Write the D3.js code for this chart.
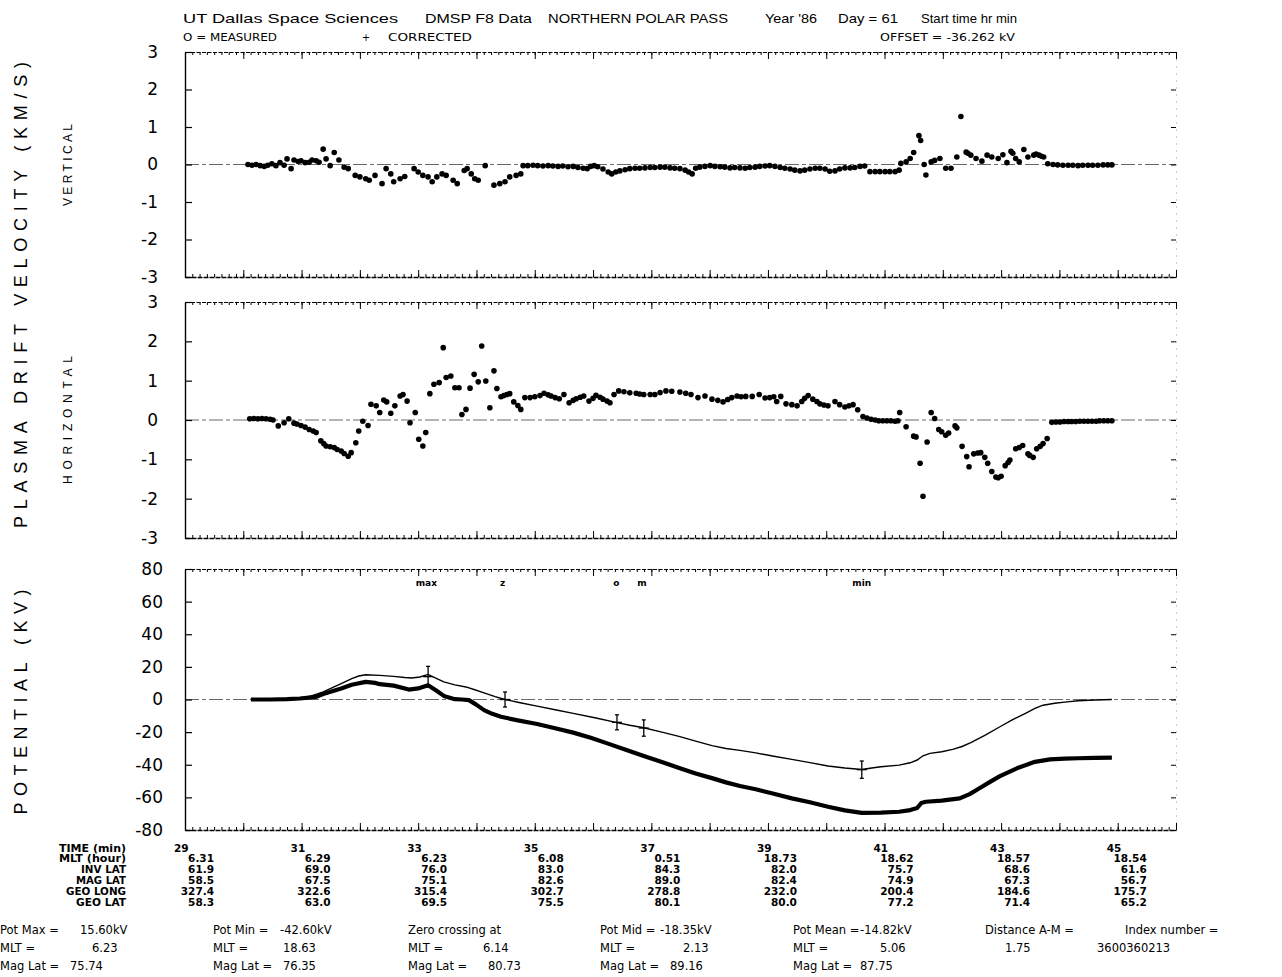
<!DOCTYPE html>
<html><head><meta charset="utf-8">
<script src="https://cdn.jsdelivr.net/npm/d3@7"></script>
<style>
body{margin:0;background:#fff;}
svg{display:block;background:#fff;}
text{font-family:"DejaVu Sans",sans-serif;fill:#000;}
</style></head><body>
<svg id="chart" width="1282" height="977"></svg>
<script>
// ---------------- DATA ----------------
// time in minutes, value in km/s
const verticalVel = [
[30.08,0.00],[30.15,-0.02],[30.22,0.00],[30.29,-0.03],[30.36,-0.05],[30.42,-0.02],[30.49,0.02],[30.56,-0.03],[30.63,0.05],[30.70,-0.02],[30.75,0.15],[30.82,-0.11],[30.87,0.12],[30.94,0.08],[30.99,0.10],[31.06,0.05],[31.13,0.06],[31.18,0.12],[31.25,0.10],[31.30,0.06],[31.37,0.41],[31.42,0.15],[31.49,-0.03],[31.56,0.32],[31.64,0.12],[31.73,-0.07],[31.80,-0.11],
[31.92,-0.29],[32.00,-0.33],[32.10,-0.38],[32.16,-0.42],[32.26,-0.29],[32.38,-0.51],[32.45,-0.11],[32.53,-0.25],[32.58,-0.46],[32.69,-0.38],[32.77,-0.32],[32.93,-0.11],[33.00,-0.20],[33.08,-0.29],[33.17,-0.33],[33.24,-0.46],[33.32,-0.33],[33.41,-0.25],[33.48,-0.29],[33.60,-0.42],[33.67,-0.51],[33.79,-0.16],[33.84,-0.11],[33.91,-0.25],[33.97,-0.38],[34.03,-0.42],[34.15,-0.03],[34.30,-0.55],[34.40,-0.51],[34.49,-0.46],[34.57,-0.33],[34.68,-0.29],[34.76,-0.25],
[34.80,-0.03],[34.88,-0.03],[34.97,-0.02],[35.05,-0.03],[35.14,-0.04],[35.23,-0.03],[35.31,-0.04],[35.40,-0.05],[35.48,-0.04],[35.57,-0.06],[35.66,-0.05],[35.74,-0.08],[35.83,-0.10],[35.90,-0.11],[35.96,-0.05],[36.02,-0.03],[36.08,-0.06],[36.17,-0.12],[36.26,-0.20],[36.32,-0.25],[36.39,-0.20],[36.46,-0.17],[36.55,-0.14],[36.63,-0.11],[36.72,-0.10],[36.80,-0.10],[36.89,-0.09],[36.98,-0.08],[37.06,-0.08],[37.15,-0.07],[37.23,-0.07],[37.32,-0.09],[37.40,-0.10],[37.49,-0.11],[37.58,-0.15],[37.64,-0.20],[37.70,-0.25],[37.76,-0.10],[37.83,-0.07],[37.92,-0.05],[38.01,-0.03],[38.09,-0.05],[38.18,-0.06],[38.26,-0.07],[38.35,-0.09],[38.43,-0.08],[38.52,-0.09],[38.61,-0.10],[38.69,-0.08],[38.78,-0.07],[38.86,-0.05],[38.95,-0.04],[39.03,-0.03],[39.12,-0.05],[39.21,-0.08],[39.29,-0.10],[39.38,-0.12],[39.46,-0.15],[39.55,-0.17],[39.63,-0.15],[39.72,-0.12],[39.81,-0.10],[39.89,-0.10],[39.98,-0.12],[40.06,-0.18],[40.15,-0.17],[40.23,-0.12],[40.32,-0.09],[40.41,-0.09],[40.49,-0.08],[40.58,-0.05],[40.66,-0.04],[40.75,-0.19],[40.84,-0.19],[40.92,-0.19],[41.01,-0.19],[41.09,-0.19],[41.18,-0.19],[41.25,-0.15],
[41.28,0.03],[41.37,0.07],[41.44,0.16],[41.50,0.32],[41.59,0.77],[41.62,0.64],[41.68,0.00],[41.71,-0.28],[41.80,0.07],[41.86,0.11],[41.95,0.16],[42.05,-0.10],[42.14,-0.10],[42.24,0.20],[42.31,1.28],[42.40,0.33],[42.43,0.30],[42.48,0.25],[42.57,0.16],[42.67,0.09],[42.76,0.25],[42.84,0.20],[42.95,0.16],[43.03,0.26],[43.10,0.05],[43.17,0.35],[43.20,0.30],[43.25,0.16],[43.31,0.07],[43.39,0.40],[43.46,0.20],[43.56,0.25],[43.60,0.28],[43.65,0.25],[43.69,0.22],[43.73,0.20],
[43.80,0.02],[43.89,0.00],[43.97,-0.01],[44.06,-0.02],[44.15,-0.02],[44.23,-0.02],[44.32,-0.03],[44.40,-0.02],[44.49,-0.02],[44.57,-0.02],[44.66,-0.02],[44.75,-0.01],[44.83,-0.01],[44.90,-0.01]
];
const horizontalVel = [
[30.11,0.03],[30.18,0.04],[30.25,0.03],[30.32,0.04],[30.39,0.03],[30.46,0.02],[30.51,0.00],
[30.60,-0.15],[30.70,-0.07],[30.78,0.03],[30.87,-0.08],[30.92,-0.10],[30.99,-0.14],[31.06,-0.18],[31.13,-0.24],[31.20,-0.28],[31.25,-0.32],[31.33,-0.53],[31.38,-0.60],[31.42,-0.66],[31.49,-0.68],[31.56,-0.70],[31.61,-0.75],[31.68,-0.79],[31.73,-0.85],[31.80,-0.92],[31.85,-0.83],[31.93,-0.58],[31.98,-0.28],[32.05,-0.03],[32.14,-0.14],[32.19,0.40],[32.28,0.36],[32.34,0.19],[32.41,0.51],[32.46,0.46],[32.53,0.17],[32.60,0.36],[32.69,0.61],[32.74,0.65],[32.81,0.48],[32.86,-0.07],[32.95,0.19],[33.01,-0.49],[33.08,-0.66],[33.13,-0.32],[33.20,0.67],[33.27,0.91],[33.36,0.95],[33.43,1.84],[33.48,1.08],[33.56,1.12],[33.63,0.82],[33.70,0.82],[33.75,0.14],[33.82,0.27],[33.89,0.81],[33.96,1.16],[34.03,0.97],[34.09,1.88],[34.16,0.99],[34.23,0.31],[34.30,1.25],[34.35,0.80],[34.42,0.59],[34.47,0.62],[34.52,0.65],[34.57,0.67],[34.64,0.46],[34.71,0.37],[34.76,0.27],
[34.83,0.57],[34.92,0.57],[35.00,0.59],[35.09,0.62],[35.16,0.68],[35.23,0.64],[35.28,0.61],[35.35,0.57],[35.42,0.54],[35.50,0.65],[35.59,0.44],[35.66,0.50],[35.71,0.54],[35.78,0.58],[35.84,0.61],[35.93,0.48],[36.00,0.55],[36.05,0.63],[36.12,0.58],[36.17,0.53],[36.24,0.48],[36.29,0.44],[36.36,0.65],[36.44,0.74],[36.53,0.72],[36.63,0.69],[36.74,0.68],[36.80,0.66],[36.87,0.65],[36.98,0.65],[37.06,0.65],[37.15,0.70],[37.25,0.74],[37.35,0.73],[37.49,0.71],[37.59,0.68],[37.68,0.65],[37.80,0.57],[37.92,0.61],[38.04,0.53],[38.14,0.50],[38.23,0.46],[38.31,0.52],[38.38,0.57],[38.47,0.61],[38.54,0.59],[38.62,0.60],[38.73,0.60],[38.85,0.65],[38.95,0.56],[39.03,0.57],[39.10,0.59],[39.15,0.47],[39.22,0.60],[39.31,0.41],[39.41,0.39],[39.50,0.36],[39.58,0.47],[39.63,0.55],[39.69,0.62],[39.77,0.53],[39.84,0.47],[39.89,0.41],[39.96,0.38],[40.03,0.36],[40.15,0.47],[40.23,0.39],[40.32,0.33],[40.39,0.36],[40.46,0.39],[40.54,0.26],[40.63,0.09],[40.70,0.05],[40.77,0.02],[40.84,0.00],[40.90,-0.02],[40.97,-0.02],[41.04,-0.02],[41.11,-0.02],[41.18,-0.03],[41.23,-0.02],
[41.26,0.19],[41.37,-0.17],[41.50,-0.41],[41.54,-0.43],[41.61,-1.10],[41.66,-1.94],[41.73,-0.56],[41.80,0.19],[41.86,0.04],[41.93,-0.24],[41.98,-0.30],[42.05,-0.39],[42.10,-0.33],[42.21,-0.15],[42.24,-0.20],[42.33,-0.67],[42.41,-0.93],[42.45,-1.19],[42.53,-0.86],[42.60,-0.84],[42.65,-0.83],[42.72,-0.95],[42.77,-1.10],[42.84,-1.31],[42.91,-1.45],[42.95,-1.47],[43.00,-1.43],[43.07,-1.16],[43.12,-1.08],[43.15,-1.02],[43.25,-0.73],[43.31,-0.70],[43.37,-0.65],[43.46,-0.86],[43.49,-0.90],[43.55,-0.95],[43.61,-0.73],[43.67,-0.67],[43.72,-0.60],[43.79,-0.47],
[43.87,-0.06],[43.94,-0.05],[44.01,-0.05],[44.08,-0.04],[44.15,-0.04],[44.21,-0.04],[44.28,-0.04],[44.35,-0.03],[44.42,-0.03],[44.49,-0.03],[44.56,-0.03],[44.63,-0.03],[44.69,-0.02],[44.76,-0.02],[44.83,-0.02],[44.90,-0.02]
];
// potential (kV)
const potCorrected = [
[30.13,0],[30.46,0.2],[30.75,0.5],[30.97,1.0],[31.13,1.8],[31.37,4.7],[31.68,9.8],[31.86,12.8],[31.98,14.4],[32.10,15.2],[32.34,14.8],[32.58,14.2],[32.77,13.5],[32.89,13.2],[33.03,13.8],[33.17,15.4],[33.31,13.0],[33.44,10.8],[33.63,9.0],[33.82,7.7],[33.97,6.0],[34.13,4.1],[34.32,1.8],[34.49,0],[34.75,-2.0],[35.04,-4.1],[35.35,-6.3],[35.66,-8.5],[36.03,-11.2],[36.41,-14.2],[36.63,-15.8],[36.87,-17.3],[37.18,-20.0],[37.49,-22.8],[37.76,-25.5],[38.04,-28.3],[38.28,-30.0],[38.52,-31.2],[38.79,-32.7],[39.10,-34.8],[39.41,-36.7],[39.72,-38.7],[40.03,-40.8],[40.32,-42.0],[40.61,-42.9],[40.78,-42.0],[40.94,-41.2],[41.25,-40.2],[41.44,-38.8],[41.56,-37.1],[41.66,-34.5],[41.78,-33.0],[41.98,-32.0],[42.17,-30.6],[42.33,-28.8],[42.48,-26.5],[42.72,-22.0],[42.98,-16.7],[43.19,-12.5],[43.41,-8.6],[43.58,-5.5],[43.72,-3.5],[43.92,-2.3],[44.09,-1.6],[44.32,-0.8],[44.61,-0.3],[44.90,0]
];
const potMeasured = [
[30.13,0],[30.46,0],[30.75,0.2],[30.97,0.6],[31.25,1.6],[31.37,3.3],[31.68,6.7],[31.86,9.0],[32.10,10.8],[32.26,10.2],[32.34,9.4],[32.58,8.5],[32.84,6.1],[33.00,6.8],[33.17,8.7],[33.31,5.5],[33.44,2.2],[33.63,0.2],[33.75,0.0],[33.87,-0.4],[33.99,-3.0],[34.13,-6.5],[34.27,-8.8],[34.42,-10.6],[34.71,-12.8],[35.04,-15.0],[35.35,-17.6],[35.66,-20.3],[35.96,-23.5],[36.27,-27.2],[36.56,-30.8],[36.87,-34.6],[37.18,-38.3],[37.49,-42.1],[37.76,-45.3],[38.04,-48.2],[38.28,-50.8],[38.52,-53.0],[38.79,-55.0],[39.10,-57.8],[39.41,-60.6],[39.72,-63.0],[40.03,-65.7],[40.32,-68.0],[40.61,-69.5],[40.94,-69.4],[41.25,-68.8],[41.44,-67.8],[41.56,-66.5],[41.63,-63.5],[41.71,-62.7],[41.98,-62.0],[42.29,-60.6],[42.46,-58.0],[42.60,-55.0],[42.81,-50.5],[42.98,-47.0],[43.27,-42.2],[43.58,-38.2],[43.84,-36.7],[44.09,-36.2],[44.32,-36.0],[44.61,-35.8],[44.90,-35.6]
];
// error bars: [time, centre kV, half-height kV]
const errorBars = [[33.17,14.0,6.3],[34.49,0,4.6],[36.41,-14.0,4.6],[36.87,-17.5,5.0],[40.61,-43.0,5.3]];
const markerLabels = ["max","z","o","m","min"];
const markerTimes = [33.14,34.45,36.40,36.84,40.61];
const markerLevel = 72;

const velTicks = [-3,-2,-1,0,1,2,3];
const potTicks = [-80,-60,-40,-20,0,20,40,60,80];

const tableTimes = [29,31,33,35,37,39,41,43,45];
const rowNames = ["TIME (min)","MLT (hour)","INV LAT","MAG LAT","GEO LONG","GEO LAT"];
const mltRow = ["6.31","6.29","6.23","6.08","0.51","18.73","18.62","18.57","18.54"];
const invLatRow = ["61.9","69.0","76.0","83.0","84.3","82.0","75.7","68.6","61.6"];
const magLatRow = ["58.5","67.5","75.1","82.6","89.0","82.4","74.9","67.3","56.7"];
const geoLongRow = ["327.4","322.6","315.4","302.7","278.8","232.0","200.4","184.6","175.7"];
const geoLatRow = ["58.3","63.0","69.5","75.5","80.1","80.0","77.2","71.4","65.2"];

const statLabels = [
 ["Pot Max =","MLT =","Mag Lat ="],
 ["Pot Min =","MLT =","Mag Lat ="],
 ["Zero crossing at","MLT =","Mag Lat ="],
 ["Pot Mid =","MLT =","Mag Lat ="],
 ["Pot Mean =","MLT =","Mag Lat ="],
 ["Distance A-M =","",""]
];
const statValues = [
 ["15.60kV","6.23","75.74"],
 ["-42.60kV","18.63","76.35"],
 ["","6.14","80.73"],
 ["-18.35kV","2.13","89.16"],
 ["-14.82kV","5.06","87.75"],
 ["","1.75",""]
];
const indexLabel = "Index number =";
const indexValue = "3600360213";

const titleParts = ["UT Dallas Space Sciences","DMSP F8 Data","NORTHERN POLAR PASS","Year  '86","Day =  61","Start time  hr  min"];
const legendParts = ["O = MEASURED","+","CORRECTED","OFFSET =  -36.262 kV"];

// ---------------- DRAW ----------------
const svg = d3.select("#chart");
const x = d3.scaleLinear().domain([29,46]).range([185,1176]);
const yV = d3.scaleLinear().domain([-3,3]).range([277,52]);
const yH = d3.scaleLinear().domain([-3,3]).range([538,302]);
const yP = d3.scaleLinear().domain([-80,80]).range([830,569]);

const majorT = d3.range(29,47,1);
const minorT = d3.range(29,46.0001,0.125);

function frame(y, ticks, pad){
  const [yb, yt] = y.range();
  const g = svg.append("g");
  g.append("line").attr("x1",x.range()[0]).attr("x2",x.range()[1])
   .attr("y1",y(0)).attr("y2",y(0)).attr("stroke","#444").attr("stroke-width",0.8)
   .attr("stroke-dasharray","14,3,4,3");
  g.append("g").attr("transform",`translate(${x.range()[0]},0)`)
   .call(d3.axisLeft(y).tickValues(ticks).tickSizeInner(-7).tickSizeOuter(0).tickPadding(pad).tickFormat(d=>String(d)))
   .attr("font-family","DejaVu Sans").attr("font-size",17)
   .call(a=>a.select(".domain").attr("stroke-width",1.4))
   .call(a=>a.selectAll(".tick line").attr("stroke-width",1.2));
  g.append("g").attr("transform",`translate(${x.range()[1]},0)`)
   .call(d3.axisRight(y).tickValues(ticks).tickSizeInner(-5).tickSizeOuter(0).tickFormat(""))
   .call(a=>a.select(".domain").attr("stroke","#999").attr("stroke-dasharray","1,6"));
  g.append("g").attr("transform",`translate(0,${yt})`)
   .call(d3.axisTop(x).tickValues(majorT).tickSizeInner(-7).tickSizeOuter(0).tickFormat(""))
   .call(a=>a.select(".domain").attr("stroke-dasharray","4,1.5").attr("stroke-width",1.2));
  g.append("g").attr("transform",`translate(0,${yt})`)
   .call(d3.axisTop(x).tickValues(minorT).tickSizeInner(-3).tickSizeOuter(0).tickFormat(""))
   .call(a=>a.select(".domain").remove());
  g.append("g").attr("transform",`translate(0,${yb})`)
   .call(d3.axisBottom(x).tickValues(majorT).tickSizeInner(-7).tickSizeOuter(0).tickFormat(""))
   .call(a=>a.select(".domain").attr("stroke-dasharray","5,1").attr("stroke-width",1.3));
  g.append("g").attr("transform",`translate(0,${yb})`)
   .call(d3.axisBottom(x).tickValues(minorT).tickSizeInner(-3).tickSizeOuter(0).tickFormat(""))
   .call(a=>a.select(".domain").remove());
}
frame(yV, velTicks, 27);
frame(yH, velTicks, 27);
frame(yP, potTicks, 22);

svg.append("g").selectAll("circle").data(verticalVel).join("circle")
  .attr("cx",d=>x(d[0])).attr("cy",d=>yV(d[1])).attr("r",2.8).attr("fill","#000");
svg.append("g").selectAll("circle").data(horizontalVel).join("circle")
  .attr("cx",d=>x(d[0])).attr("cy",d=>yH(d[1])).attr("r",2.8).attr("fill","#000");

const line = d3.line().x(d=>x(d[0])).y(d=>yP(d[1]));
svg.append("path").datum(potCorrected).attr("d",line).attr("fill","none")
  .attr("stroke","#000").attr("stroke-width",1.4);
svg.append("path").datum(potMeasured).attr("d",line).attr("fill","none")
  .attr("stroke","#000").attr("stroke-width",4.2).attr("stroke-linejoin","round");

const eb = svg.append("g").attr("stroke","#000").attr("stroke-width",1.3);
errorBars.forEach(d=>{
  eb.append("line").attr("x1",x(d[0])).attr("x2",x(d[0])).attr("y1",yP(d[1]-d[2])).attr("y2",yP(d[1]+d[2]));
  eb.append("line").attr("x1",x(d[0])-5).attr("x2",x(d[0])+5).attr("y1",yP(d[1])).attr("y2",yP(d[1]));
  eb.append("line").attr("x1",x(d[0])-2).attr("x2",x(d[0])+2).attr("y1",yP(d[1]-d[2])).attr("y2",yP(d[1]-d[2]));
  eb.append("line").attr("x1",x(d[0])-2).attr("x2",x(d[0])+2).attr("y1",yP(d[1]+d[2])).attr("y2",yP(d[1]+d[2]));
});
svg.append("g").selectAll("text").data(markerLabels).join("text")
  .attr("x",(d,i)=>x(markerTimes[i])).attr("y",yP(markerLevel)+4)
  .attr("text-anchor","middle").attr("font-size",9).attr("font-weight","bold").text(d=>d);

function vtext(txt, cx, cy, size, len){
  svg.append("text").attr("transform",`translate(${cx},${cy}) rotate(-90)`)
    .attr("text-anchor","middle").attr("font-size",size)
    .style("font-family","'Liberation Sans', sans-serif")
    .attr("textLength",len).attr("lengthAdjust","spacing").text(txt);
}
vtext("PLASMA DRIFT VELOCITY (KM/S)", 27, 295, 18, 466);
vtext("POTENTIAL (KV)", 27, 702, 18, 225);
vtext("VERTICAL", 72, 165, 12, 82);
vtext("HORIZONTAL", 72, 420, 12, 128);

const tpos = [[183,215],[425,107],[548,180],[765,52],[838,60],[921,96]];
titleParts.forEach((t,i)=>{
  svg.append("text").attr("x",tpos[i][0]).attr("y",23).attr("font-size",13)
    .style("font-family","'Liberation Sans', sans-serif")
    .attr("textLength",tpos[i][1]).attr("lengthAdjust","spacingAndGlyphs").text(t);
});
const lpos = [[183,94],[362,8],[388,84],[880,135]];
legendParts.forEach((t,i)=>{
  svg.append("text").attr("x",lpos[i][0]).attr("y",41).attr("font-size",10.5)
    .attr("textLength",lpos[i][1]).attr("lengthAdjust","spacingAndGlyphs").text(t);
});

const rowY = [852,862,873,884,895,906];
const tg = svg.append("g").attr("font-size",10.5).attr("font-weight","bold");
rowNames.forEach((r,i)=>{
  tg.append("text").attr("x",126).attr("y",rowY[i]).attr("text-anchor","end")
    .attr("textLength",[67,67,45,50,60,50][i]).attr("lengthAdjust","spacingAndGlyphs").text(r);
});
tableTimes.forEach((t,j)=>{
  tg.append("text").attr("x",x(t)-11).attr("y",rowY[0]).text(String(t));
  [mltRow,invLatRow,magLatRow,geoLongRow,geoLatRow].forEach((row,i)=>{
    tg.append("text").attr("x",x(t)+29).attr("y",rowY[i+1]).attr("text-anchor","end").text(row[j]);
  });
});

const colX = [0,213,408,600,793,985];
const valOff = [[80,92,70],[67,70,70],[0,75,80],[60,83,70],[67,87,67],[0,20,0]];
const statY = [934,952,970];
const sg = svg.append("g").attr("font-size",11.5);
statLabels.forEach((col,c)=>{
  col.forEach((lab,r)=>{
    if(lab) sg.append("text").attr("x",colX[c]).attr("y",statY[r]).text(lab);
    if(statValues[c][r]) sg.append("text").attr("x",colX[c]+valOff[c][r]).attr("y",statY[r]).text(statValues[c][r]);
  });
});
sg.append("text").attr("x",1125).attr("y",statY[0]).text(indexLabel);
sg.append("text").attr("x",1097).attr("y",statY[1]).text(indexValue);
</script>
</body></html>
